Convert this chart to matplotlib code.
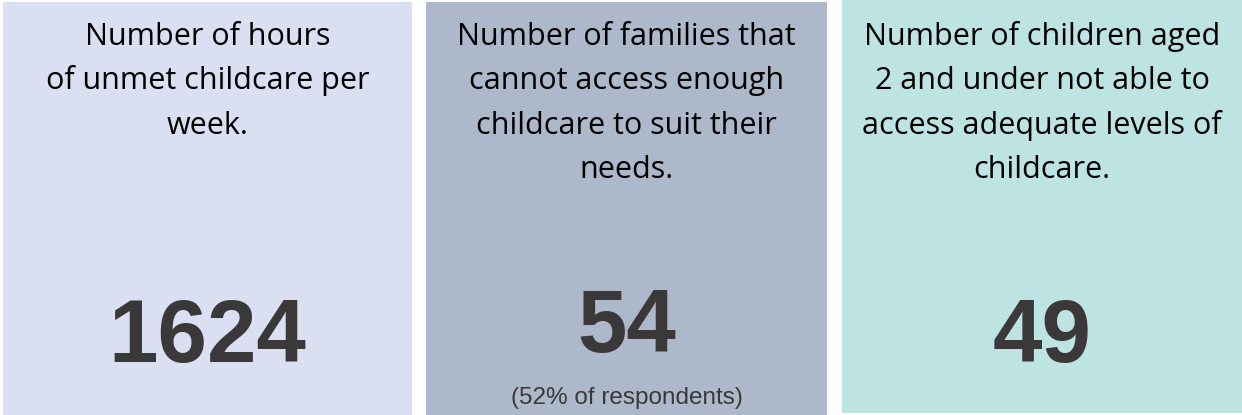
import matplotlib
matplotlib.use("Agg")
import matplotlib.pyplot as plt
from matplotlib.patches import Rectangle

# ---- data ----
titles = [
    ["Number of hours", "of unmet childcare per", "week."],
    ["Number of families that", "cannot access enough", "childcare to suit their", "needs."],
    ["Number of children aged", "2 and under not able to", "access adequate levels of", "childcare."],
]
values = ["1624", "54", "49"]
subtitles = ["", "(52% of respondents)", ""]
panel_colors = ["#DAE0F2", "#ADB9CA", "#BDE3E2"]

# ---- layout (pixel coordinates) ----
W, H = 1242, 415
panels_x = [(3, 412), (426, 827), (842, 1242)]
panels_y = [(2, 415), (2, 415), (0, 413)]
value_y = [329, 319, 329]

fig = plt.figure(figsize=(W / 100, H / 100), dpi=100)
ax = fig.add_axes([0, 0, 1, 1])
ax.set_xlim(0, W)
ax.set_ylim(H, 0)
ax.axis("off")

for i in range(3):
    x0, x1 = panels_x[i]
    y0, y1 = panels_y[i]
    ax.add_patch(Rectangle((x0, y0), x1 - x0, y1 - y0, facecolor=panel_colors[i], edgecolor="none"))
    cx = (x0 + x1) / 2
    for j, line in enumerate(titles[i]):
        ax.text(cx, 45 + 44.3 * j, line, ha="center", va="baseline", fontsize=22,
                family="Open Sans", color="#000000")
    ax.text(cx, value_y[i], values[i], ha="center", va="center_baseline", fontsize=64,
            family="Liberation Sans", fontweight="bold", color="#3A3838")
    if subtitles[i]:
        ax.text(cx, 395, subtitles[i], ha="center", va="center_baseline", fontsize=17.5,
                family="Liberation Sans", color="#3A3838")

fig.savefig("out.png", dpi=100)
